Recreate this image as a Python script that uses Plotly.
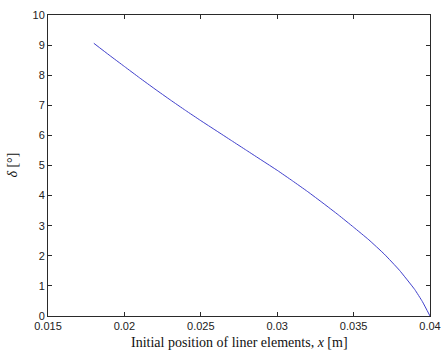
import plotly.graph_objects as go

x_pos = [0.018, 0.019, 0.020, 0.021, 0.022, 0.023, 0.024, 0.025, 0.026, 0.027, 0.028, 0.029,
         0.030, 0.031, 0.032, 0.033, 0.034, 0.035, 0.036, 0.037, 0.038, 0.039, 0.0395, 0.040]
delta = [9.06, 8.67, 8.29, 7.91, 7.54, 7.18, 6.83, 6.49, 6.16, 5.83, 5.50, 5.17,
         4.84, 4.49, 4.13, 3.75, 3.36, 2.95, 2.53, 2.06, 1.52, 0.88, 0.48, 0.0]

x_ticks = [0.015, 0.02, 0.025, 0.03, 0.035, 0.04]
x_tick_labels = ["0.015", "0.02", "0.025", "0.03", "0.035", "0.04"]
y_ticks = list(range(0, 11))
y_tick_labels = [str(v) for v in y_ticks]

fig = go.Figure()
fig.add_trace(go.Scatter(x=x_pos, y=delta, mode="lines",
                         line=dict(color="#4040cc", width=1, shape="spline", smoothing=0.4),
                         showlegend=False, hoverinfo="skip"))

axis_common = dict(showgrid=False, zeroline=False, showline=True, mirror="ticks",
                   linecolor="#2a2a2a", linewidth=1, ticks="inside", ticklen=4,
                   tickcolor="#2a2a2a", tickwidth=1, automargin=False,
                   tickfont=dict(family="Liberation Sans, Arial", size=11, color="#222"))

title_font = dict(family="Liberation Serif, Times New Roman", size=14, color="#111")

fig.update_layout(
    width=441, height=353,
    margin=dict(l=48, r=11, t=15, b=37),
    paper_bgcolor="white", plot_bgcolor="white",
    xaxis=dict(range=[0.015, 0.04], tickvals=x_ticks, ticktext=x_tick_labels, **axis_common),
    yaxis=dict(range=[0, 10], tickvals=y_ticks, ticktext=y_tick_labels, **axis_common),
    annotations=[
        dict(text="Initial position of liner elements, <i>x</i> [m]", font=title_font,
             xref="paper", yref="paper", x=0.5, y=-0.089, xanchor="center", yanchor="middle",
             showarrow=False),
        dict(text="<i>δ</i> [°]", font=title_font, textangle=-90,
             xref="paper", yref="paper", x=-0.094, y=0.5, xanchor="center", yanchor="middle",
             showarrow=False),
    ],
)

fig.write_html("out.html")
